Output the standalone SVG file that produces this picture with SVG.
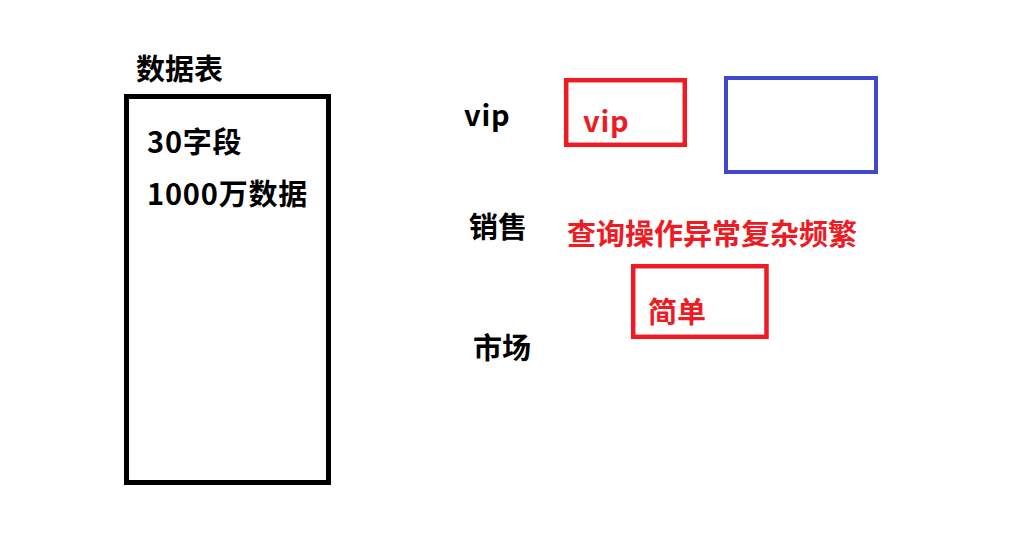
<svg xmlns="http://www.w3.org/2000/svg" width="1018" height="540" viewBox="0 0 1018 540">
<style>
text{font-family:"Noto Sans CJK SC","Microsoft YaHei",sans-serif;font-weight:bold;font-size:29px}
.k{fill:#000}
.r{fill:#ED1C24}
.box{fill:none}
.lat{letter-spacing:0.8px}
</style>
<rect width="1018" height="540" fill="#fff"/>
<g id="table">
<text class="k" x="136" y="80">数据表</text>
<rect class="box" x="126.5" y="96.5" width="202" height="386" stroke="#000" stroke-width="5"/>
<text class="k lat" x="147" y="153">30字段</text>
<text class="k lat" x="147" y="205">1000万数据</text>
</g>
<g id="labels">
<text class="k lat" x="464" y="126">vip</text>
<text class="k" x="469" y="238">销售</text>
<text class="k" x="473" y="359">市场</text>
</g>
<g id="vip-box">
<rect class="box" x="566.2" y="80.2" width="118.6" height="64.6" stroke="#ED1C24" stroke-width="4.5"/>
<text class="r lat" x="583" y="132">vip</text>
</g>
<g id="blue-box">
<rect class="box" x="726" y="78" width="150" height="94" stroke="#3F48CC" stroke-width="4"/>
</g>
<g id="note">
<text class="r" x="567" y="245">查询操作异常复杂频繁</text>
</g>
<g id="simple-box">
<rect class="box" x="633.2" y="266.2" width="133.3" height="70.6" stroke="#ED1C24" stroke-width="4.5"/>
<text class="r" x="648" y="323">简单</text>
</g>
<g id="connectors"/>
</svg>
